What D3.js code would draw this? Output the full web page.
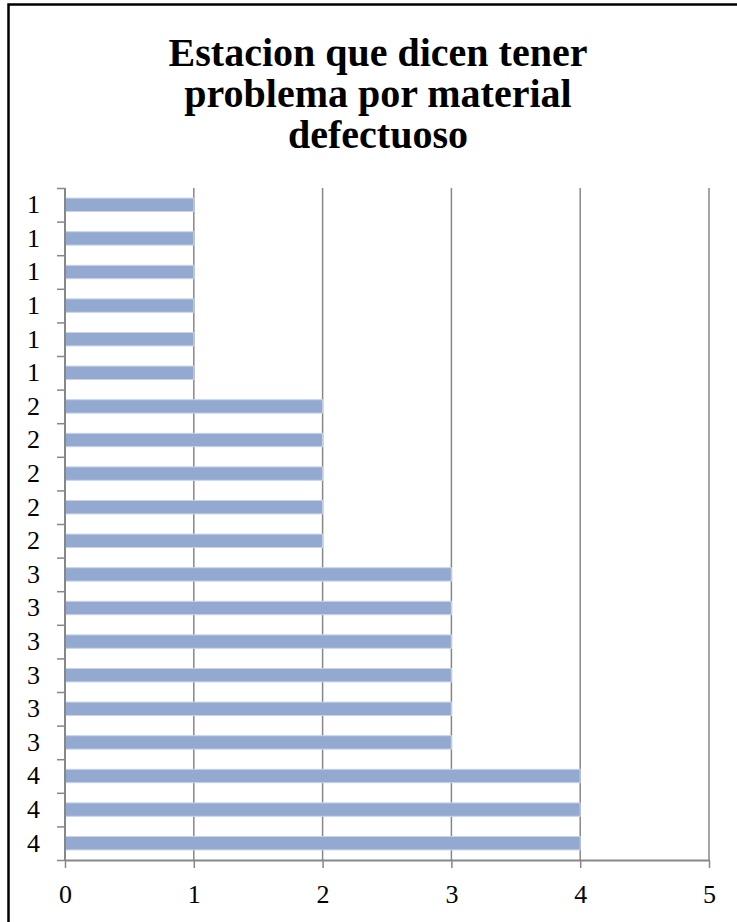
<!DOCTYPE html>
<html>
<head>
<meta charset="utf-8">
<script src="https://cdn.jsdelivr.net/npm/d3@7"></script>
<style>
  html, body { margin: 0; padding: 0; background: #fff; }
  svg { display: block; }
</style>
</head>
<body>
<svg id="chart" width="737" height="922"></svg>
<script>
// Stations reporting problems due to defective material (listed top to bottom)
const stationLabels = ["1","1","1","1","1","1","2","2","2","2","2","3","3","3","3","3","3","4","4","4"];
const stationValues = [1,1,1,1,1,1,2,2,2,2,2,3,3,3,3,3,3,4,4,4];
const xTickValues = [0, 1, 2, 3, 4, 5];
const titleLines = ["Estacion que dicen tener", "problema por material", "defectuoso"];

const W = 737, H = 922;
const margin = { top: 188, left: 65, right: 28, bottom: 62 };
const plotW = W - margin.left - margin.right;
const plotH = H - margin.top - margin.bottom;

const svg = d3.select("#chart");
const font = "'Liberation Serif', 'DejaVu Serif', serif";
const gridColor = "#878787";

// frame around the chart area
svg.append("path")
  .attr("d", `M8.5,${H + 5} L8.5,4.5 L${W + 5},4.5`)
  .attr("fill", "none")
  .attr("stroke", "#000")
  .attr("stroke-width", 2.5);

// title
svg.append("g")
  .selectAll("text")
  .data(titleLines)
  .join("text")
  .attr("x", 378)
  .attr("y", (d, i) => 66 + i * 41)
  .attr("text-anchor", "middle")
  .attr("font-family", font)
  .attr("font-weight", "bold")
  .attr("font-size", 40)
  .attr("fill", "#000")
  .text(d => d);

const x = d3.scaleLinear().domain([0, 5]).range([0, plotW]);
const idx = d3.range(stationValues.length);
const y = d3.scaleBand().domain(idx).range([0, plotH]).paddingInner(0.6).paddingOuter(0.3);
const yBound = d3.scaleLinear().domain([0, stationValues.length]).range([0, plotH]);

const g = svg.append("g").attr("transform", `translate(${margin.left},${margin.top})`);

// vertical gridlines
g.append("g")
  .selectAll("line")
  .data(xTickValues.filter(v => v > 0))
  .join("line")
  .attr("x1", d => x(d)).attr("x2", d => x(d))
  .attr("y1", 0).attr("y2", plotH)
  .attr("stroke", gridColor)
  .attr("stroke-width", 1.5);

// bars
g.append("g")
  .selectAll("rect")
  .data(idx)
  .join("rect")
  .attr("x", x(0))
  .attr("y", i => y(i))
  .attr("width", i => x(stationValues[i]) - x(0))
  .attr("height", y.bandwidth())
  .attr("fill", "#94a9cf")
  .attr("stroke", "#c9d5ea")
  .attr("stroke-width", 1);

// category axis: tick marks on boundaries between categories
const yTicks = g.append("g")
  .call(d3.axisLeft(yBound).tickValues(d3.range(stationValues.length + 1)).tickSize(8).tickFormat(""));
yTicks.select(".domain").remove();
yTicks.selectAll(".tick line").attr("stroke", gridColor).attr("stroke-width", 1.5);

g.append("line")
  .attr("x1", 0).attr("x2", 0).attr("y1", 0).attr("y2", plotH)
  .attr("stroke", gridColor).attr("stroke-width", 2);

// category labels
const yLabels = g.append("g")
  .call(d3.axisLeft(y).tickSize(0).tickPadding(25).tickFormat(i => stationLabels[i]));
yLabels.select(".domain").remove();
yLabels.selectAll("text")
  .attr("font-family", font)
  .attr("font-size", 26)
  .attr("fill", "#000");

// value axis
const xAxis = g.append("g")
  .attr("transform", `translate(0,${plotH})`)
  .call(d3.axisBottom(x).tickValues(xTickValues).tickFormat(d3.format("d")).tickSize(8).tickSizeOuter(0));
xAxis.select(".domain").attr("stroke", gridColor).attr("stroke-width", 2);
xAxis.selectAll(".tick line").attr("stroke", gridColor).attr("stroke-width", 1.5);
xAxis.selectAll("text")
  .attr("y", 43)
  .attr("dy", 0)
  .attr("font-family", font)
  .attr("font-size", 26)
  .attr("fill", "#000");
</script>
</body>
</html>
